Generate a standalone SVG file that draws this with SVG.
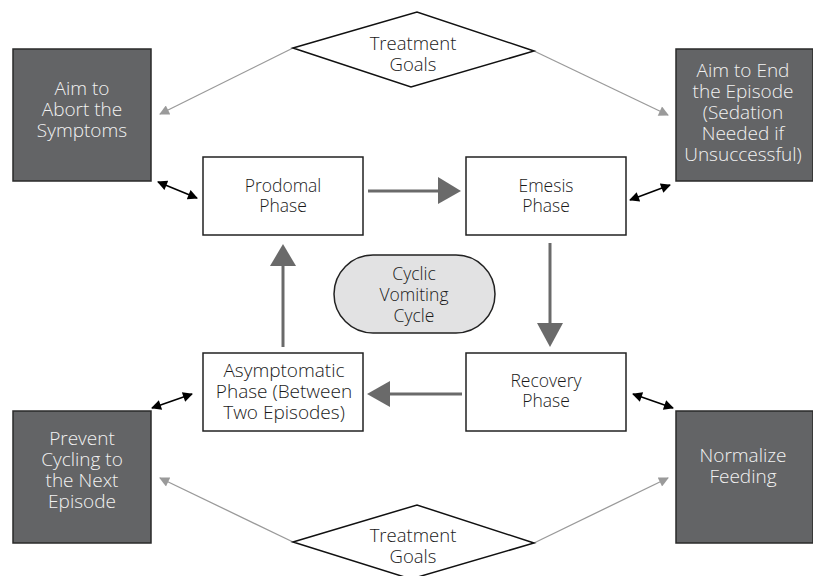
<svg xmlns="http://www.w3.org/2000/svg" width="813" height="576" viewBox="0 0 813 576">
<defs>
<style>
.dark{fill:#636466;stroke:#2a2a2a;stroke-width:1.5}
.box{fill:#fff;stroke:#222;stroke-width:1.5}
.dia{fill:#fff;stroke:#111;stroke-width:1.5}
.pill{fill:#e2e2e3;stroke:#222;stroke-width:1.5}
.lt{font-family:"Open Sans","Liberation Sans",sans-serif;font-weight:300;font-size:19px;fill:#f2f2f2;text-anchor:middle}
.at{font-family:"Open Sans","Liberation Sans",sans-serif;font-weight:300;font-size:19px;fill:#1a1a1a;text-anchor:middle}
.bt{font-family:"Open Sans","Liberation Sans",sans-serif;font-weight:300;font-size:17.5px;fill:#1a1a1a;text-anchor:middle}
.gt{font-family:"Open Sans","Liberation Sans",sans-serif;font-weight:300;font-size:18.5px;fill:#1a1a1a;text-anchor:middle}
.flow{stroke:#6a6a6a;stroke-width:3;fill:none}
.goal{stroke:#9a9a9a;stroke-width:1.3;fill:none}
.dbl{stroke:#000;stroke-width:1.5;fill:none}
</style>
<marker id="mg" viewBox="0 0 10 10" refX="9" refY="5" markerWidth="12" markerHeight="10" markerUnits="userSpaceOnUse" orient="auto"><path d="M0,0 L10,5 L0,10 Z" fill="#9a9a9a"/></marker>
<marker id="mb" viewBox="0 0 10 10" refX="9" refY="5" markerWidth="11" markerHeight="10" markerUnits="userSpaceOnUse" orient="auto-start-reverse"><path d="M0,0 L10,5 L0,10 Z" fill="#000"/></marker>
</defs>

<g id="connectors">
  <line class="flow" x1="368" y1="191" x2="440" y2="191"/>
  <polygon points="438,177 461,191 438,204" fill="#6a6a6a"/>
  <line class="flow" x1="550" y1="243" x2="550" y2="325"/>
  <polygon points="537,323 563,323 550,347" fill="#6a6a6a"/>
  <line class="flow" x1="462" y1="394" x2="388" y2="394"/>
  <polygon points="390,381 390,407 367,394" fill="#6a6a6a"/>
  <line class="flow" x1="283" y1="347" x2="283" y2="265"/>
  <polygon points="270,266 296,266 283,244" fill="#6a6a6a"/>
  <line class="goal" x1="293" y1="48" x2="160" y2="114" marker-end="url(#mg)"/>
  <line class="goal" x1="534" y1="51" x2="668" y2="115" marker-end="url(#mg)"/>
  <line class="goal" x1="293" y1="542" x2="160" y2="478" marker-end="url(#mg)"/>
  <line class="goal" x1="534" y1="543" x2="668" y2="478" marker-end="url(#mg)"/>
  <line class="dbl" x1="158" y1="182" x2="197" y2="198" marker-start="url(#mb)" marker-end="url(#mb)"/>
  <line class="dbl" x1="630" y1="200" x2="670" y2="185" marker-start="url(#mb)" marker-end="url(#mb)"/>
  <line class="dbl" x1="152" y1="408" x2="192" y2="394" marker-start="url(#mb)" marker-end="url(#mb)"/>
  <line class="dbl" x1="633" y1="394" x2="673" y2="408" marker-start="url(#mb)" marker-end="url(#mb)"/>
</g>

<g id="goals-top">
  <polygon class="dia" points="293,48 417,12 534,51 411,87"/>
  <text class="gt" x="413" y="50">Treatment</text>
  <text class="gt" x="413" y="71">Goals</text>
</g>
<g id="goals-bottom">
  <polygon class="dia" points="293,542 417,505 534,543 411,579"/>
  <text class="gt" x="413" y="542">Treatment</text>
  <text class="gt" x="413" y="563">Goals</text>
</g>

<g id="abort">
  <rect class="dark" x="13" y="49" width="138" height="132"/>
  <text class="lt" x="82" y="95">Aim to</text>
  <text class="lt" x="82" y="116">Abort the</text>
  <text class="lt" x="82" y="137">Symptoms</text>
</g>
<g id="end-episode">
  <rect class="dark" x="676" y="49" width="137" height="132"/>
  <text class="lt" x="743" y="77">Aim to End</text>
  <text class="lt" x="743" y="98">the Episode</text>
  <text class="lt" x="743" y="119">(Sedation</text>
  <text class="lt" x="743" y="140">Needed if</text>
  <text class="lt" x="743" y="161">Unsuccessful)</text>
</g>
<g id="prevent">
  <rect class="dark" x="13" y="411" width="138" height="132"/>
  <text class="lt" x="82" y="445">Prevent</text>
  <text class="lt" x="82" y="466">Cycling to</text>
  <text class="lt" x="82" y="487">the Next</text>
  <text class="lt" x="82" y="508">Episode</text>
</g>
<g id="normalize">
  <rect class="dark" x="676" y="411" width="137" height="132"/>
  <text class="lt" x="743" y="462">Normalize</text>
  <text class="lt" x="743" y="483">Feeding</text>
</g>

<g id="prodomal">
  <rect class="box" x="203" y="157" width="160" height="78"/>
  <text class="bt" x="283" y="192">Prodomal</text>
  <text class="bt" x="283" y="212">Phase</text>
</g>
<g id="emesis">
  <rect class="box" x="466" y="157" width="160" height="78"/>
  <text class="bt" x="546" y="192">Emesis</text>
  <text class="bt" x="546" y="212">Phase</text>
</g>
<g id="recovery">
  <rect class="box" x="466" y="353" width="160" height="78"/>
  <text class="bt" x="546" y="387">Recovery</text>
  <text class="bt" x="546" y="407">Phase</text>
</g>
<g id="asymptomatic">
  <rect class="box" x="203" y="353" width="160" height="78"/>
  <text class="at" x="284" y="377">Asymptomatic</text>
  <text class="at" x="284" y="398">Phase (Between</text>
  <text class="at" x="284" y="419">Two Episodes)</text>
</g>
<g id="cycle">
  <rect class="pill" x="334" y="255" width="161" height="78" rx="39" ry="39"/>
  <text class="bt" x="414" y="280">Cyclic</text>
  <text class="bt" x="414" y="301">Vomiting</text>
  <text class="bt" x="414" y="322">Cycle</text>
</g>
</svg>
